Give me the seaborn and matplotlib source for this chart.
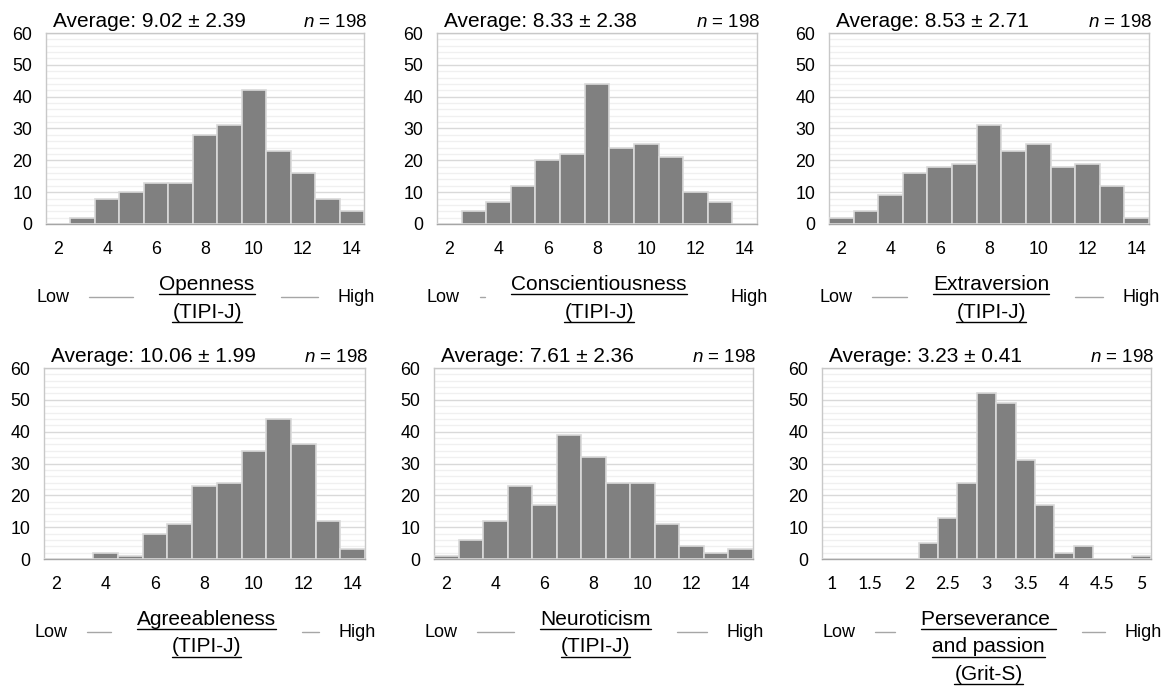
import numpy as np
import pandas as pd
import seaborn as sns
import matplotlib.pyplot as plt
from matplotlib.lines import Line2D

# score categories
tipi_scores = [2, 3, 4, 5, 6, 7, 8, 9, 10, 11, 12, 13, 14]
grit_scores = [1.0, 1.25, 1.5, 1.75, 2.0, 2.25, 2.5, 2.75, 3.0, 3.25, 3.5, 3.75, 4.0, 4.25, 4.5, 4.75, 5.0]

# counts
openness = [0, 2, 8, 10, 13, 13, 28, 31, 42, 23, 16, 8, 4]
conscientiousness = [0, 4, 7, 12, 20, 22, 44, 24, 25, 21, 10, 7, 0]
extraversion = [2, 4, 9, 16, 18, 19, 31, 23, 25, 18, 19, 12, 2]
agreeableness = [0, 0, 2, 1, 8, 11, 23, 24, 34, 44, 36, 12, 3]
neuroticism = [1, 6, 12, 23, 17, 39, 32, 24, 24, 11, 4, 2, 3]
grit = [0, 0, 0, 0, 0, 5, 13, 24, 52, 49, 31, 17, 2, 4, 0, 0, 1]

means = ['9.02', '8.33', '8.53', '10.06', '7.61', '3.23']
sds = ['2.39', '2.38', '2.71', '1.99', '2.36', '0.41']
n_total = 198

labels = [['Openness', '(TIPI-J)'],
          ['Conscientiousness', '(TIPI-J)'],
          ['Extraversion', '(TIPI-J)'],
          ['Agreeableness', '(TIPI-J)'],
          ['Neuroticism', '(TIPI-J)'],
          ['Perseverance ', 'and passion', '(Grit-S)']]

tipi_ticks = [2, 4, 6, 8, 10, 12, 14]
tipi_ticklabels = ['2', '4', '6', '8', '10', '12', '14']
grit_ticks = [1, 1.5, 2, 2.5, 3, 3.5, 4, 4.5, 5]
grit_ticklabels = ['1', '1.5', '2', '2.5', '3', '3.5', '4', '4.5', '5']

sns.set_style('white')
plt.rcParams['font.family'] = ['Liberation Sans', 'DejaVu Sans']
plt.rcParams['text.color'] = 'black'
plt.rcParams['xtick.color'] = 'black'
plt.rcParams['ytick.color'] = 'black'
plt.rcParams['mathtext.fontset'] = 'custom'
plt.rcParams['mathtext.it'] = 'Liberation Sans:italic'
plt.rcParams['mathtext.rm'] = 'Liberation Sans'

W, H = 1167, 687
fig = plt.figure(figsize=(W / 100, H / 100), dpi=100)
fig.patch.set_facecolor('white')

# axes boxes in pixels: left, top, right, bottom
boxes = [(46, 33, 364, 224), (437, 33, 757, 224), (829, 33, 1149, 224),
         (44, 368, 365, 559), (434, 368, 753, 559), (822, 368, 1151, 559)]
series = [openness, conscientiousness, extraversion, agreeableness, neuroticism, grit]


def fx(px):
    return px / W


def fy(py):
    return 1 - py / H


low_high = []
label_texts = []
for i, (L, T, R, B) in enumerate(boxes):
    is_grit = i == 5
    xs = grit_scores if is_grit else tipi_scores
    df = pd.DataFrame({'score': xs, 'count': series[i]})
    ax = fig.add_axes([fx(L), fy(B), fx(R - L), (B - T) / H])
    sns.barplot(data=df, x='score', y='count', native_scale=True, width=1,
                color='#808080', saturation=1, edgecolor='#d9d9d9',
                linewidth=1.2, ax=ax, zorder=3)
    ax.set_xlabel('')
    ax.set_ylabel('')
    ax.set_ylim(0, 60)
    ax.set_yticks(range(0, 61, 10))
    ax.set_yticks(range(0, 61, 2), minor=True)
    ax.set_axisbelow(True)
    ax.grid(axis='y', which='major', color='#d9d9d9', lw=1, zorder=0)
    ax.grid(axis='y', which='minor', color='#f0f0f0', lw=1, zorder=0)
    ax.grid(axis='x', visible=False)
    if is_grit:
        ax.set_xlim(0.875, 5.125)
        ax.set_xticks(grit_ticks, labels=grit_ticklabels)
        for t in ax.get_xticklabels():
            t.set_family('Lato')
    else:
        ax.set_xlim(1.5, 14.5)
        ax.set_xticks(tipi_ticks, labels=tipi_ticklabels)
    ax.tick_params(which='both', length=0)
    ax.tick_params(axis='y', pad=10, labelsize=12.8)
    ax.tick_params(axis='x', pad=12, labelsize=12.8)
    for s in ax.spines.values():
        s.set_color('#c8c8c8')
        s.set_linewidth(1)
    ax.spines['bottom'].set_color('#a6a6a6')

    # header texts
    fig.text(fx(L + 7), fy(T - 6), f'Average: {means[i]} ± {sds[i]}',
             fontsize=15, ha='left', va='baseline')
    fig.text(fx(R + 3), fy(T - 6), f'$n$ = {n_total}',
             fontsize=13.5, ha='right', va='baseline')

    # bottom axis title with Low / High
    cx = (L + R) / 2 + 2
    lines = []
    for k, line in enumerate(labels[i]):
        t = fig.text(fx(cx), fy(B + 66 + 27.5 * k), line, fontsize=15,
                     ha='center', va='baseline')
        lines.append(t)
    label_texts.append(lines)
    low = fig.text(fx(L if is_grit else L - 10), fy(B + 78), 'Low',
                   fontsize=13, ha='left', va='baseline')
    high = fig.text(fx(R + 11), fy(B + 78), 'High',
                    fontsize=13, ha='right', va='baseline')
    low_high.append((low, high, B))

fig.canvas.draw()
r = fig.canvas.get_renderer()

# underline label lines
for lines in label_texts:
    for t in lines:
        bb = t.get_window_extent(r)
        x0, y0 = t.get_position()
        base = y0 * H
        fig.add_artist(Line2D([bb.x0 / W, bb.x1 / W], [(base - 4) / H, (base - 4) / H],
                              color='black', lw=1))

# connector dashes
for (low, high, B), lines in zip(low_high, label_texts):
    lb = low.get_window_extent(r)
    hb = high.get_window_extent(r)
    lab_l = min(t.get_window_extent(r).x0 for t in lines)
    lab_r = max(t.get_window_extent(r).x1 for t in lines[:1])
    yy = fy(B + 73)
    a, b = lb.x1 + 20, lab_l - 26
    if b - a > 2:
        fig.add_artist(Line2D([a / W, b / W], [yy, yy], color='#a6a6a6', lw=1))
    a, b = lab_r + 26, hb.x0 - 20
    if b - a > 2:
        fig.add_artist(Line2D([a / W, b / W], [yy, yy], color='#a6a6a6', lw=1))

fig.savefig('out.png', dpi=100, facecolor='white')
